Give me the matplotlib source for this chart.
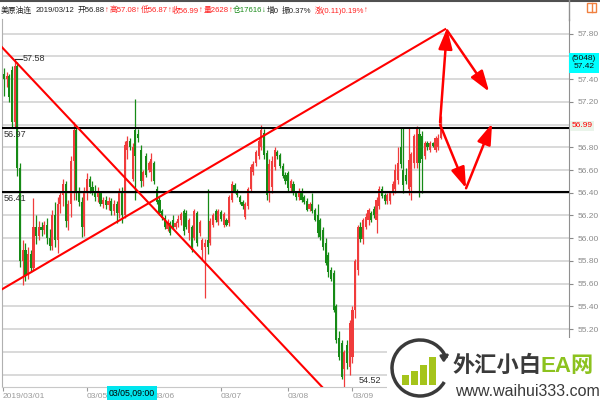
import numpy as np
import matplotlib
matplotlib.use("Agg")
from matplotlib import pyplot as plt
from matplotlib.patches import Rectangle, Arc

plt.rcParams['font.family'] = ['Liberation Sans', 'Noto Sans CJK SC', 'DejaVu Sans']

# hourly bars, 美原油连
opens = [57.45, 57.40, 57.43, 57.48, 57.02, 57.52, 56.62, 55.80, 55.90, 55.68,
         55.86, 55.74, 56.10, 56.02, 56.10, 56.07, 56.12, 56.00, 55.93, 56.20,
         55.98, 56.30, 56.38, 56.48, 56.15, 56.30, 56.68, 56.95, 56.40, 56.32,
         56.10, 56.40, 56.52, 56.45, 56.42, 56.36, 56.40, 56.30, 56.34, 56.29,
         56.33, 56.24, 56.30, 56.22, 56.40, 56.20, 56.78, 56.86, 56.52, 56.95,
         56.92, 56.78, 56.50, 56.72, 56.60, 56.58, 56.66, 56.43, 56.34, 56.24,
         56.18, 56.08, 56.13, 56.16, 56.10, 56.13, 56.16, 56.24, 56.22, 56.05,
         56.10, 56.00, 56.22, 56.05, 55.90, 55.92, 55.98, 55.96, 56.12, 56.24,
         56.14, 56.23, 56.12, 56.16, 56.13, 56.34, 56.47, 56.41, 56.36, 56.32,
         56.19, 56.28, 56.43, 56.58, 56.66, 56.72, 56.80, 56.93, 56.75, 56.40,
         56.45, 56.63, 56.76, 56.73, 56.64, 56.56, 56.57, 56.44, 56.48, 56.40,
         56.36, 56.42, 56.36, 56.33, 56.26, 56.30, 56.25, 56.20, 56.16, 56.07,
         55.96, 55.85, 55.72, 55.69, 55.40, 55.12, 55.08, 54.85, 55.06, 54.87,
         54.95, 55.37, 55.72, 56.10, 55.99, 56.10, 56.16, 56.22, 56.26, 56.16,
         56.28, 56.43, 56.38, 56.33, 56.33, 56.40, 56.43, 56.51, 56.80, 56.60,
         56.56, 56.43, 56.45, 56.66, 56.66, 56.92, 56.90, 56.72, 56.84, 56.78,
         56.84, 56.78, 56.80, 56.88]
highs = [57.50, 57.46, 57.45, 57.52, 57.58, 57.55, 56.66, 55.98, 55.96, 55.92,
         55.90, 56.35, 56.20, 56.15, 56.14, 56.15, 56.18, 56.08, 56.25, 56.32,
         56.36, 56.42, 56.52, 56.50, 56.34, 56.72, 57.02, 56.97, 56.45, 56.36,
         56.45, 56.57, 56.55, 56.50, 56.47, 56.45, 56.42, 56.36, 56.37, 56.36,
         56.35, 56.34, 56.33, 56.44, 56.45, 56.86, 56.90, 56.88, 56.84, 57.23,
         56.96, 56.82, 56.60, 56.75, 56.68, 56.75, 56.68, 56.46, 56.36, 56.26,
         56.20, 56.17, 56.15, 56.20, 56.15, 56.20, 56.23, 56.26, 56.25, 56.18,
         56.12, 56.26, 56.24, 56.16, 56.00, 55.99, 56.43, 56.18, 56.22, 56.26,
         56.26, 56.25, 56.23, 56.18, 56.38, 56.50, 56.49, 56.43, 56.38, 56.34,
         56.32, 56.45, 56.65, 56.68, 56.78, 56.88, 57.00, 56.96, 56.78, 56.70,
         56.72, 56.80, 56.78, 56.75, 56.66, 56.58, 56.59, 56.52, 56.50, 56.42,
         56.44, 56.44, 56.38, 56.35, 56.32, 56.40, 56.27, 56.30, 56.18, 56.10,
         56.00, 55.88, 55.75, 55.72, 55.42, 55.18, 55.10, 55.02, 55.10, 55.28,
         55.40, 55.82, 56.12, 56.14, 56.18, 56.22, 56.27, 56.24, 56.28, 56.36,
         56.46, 56.46, 56.40, 56.40, 56.42, 56.50, 56.65, 56.80, 56.97, 56.97,
         56.62, 56.97, 56.76, 56.92, 56.99, 56.97, 56.94, 56.86, 56.86, 56.86,
         56.85, 56.90, 56.92, 57.08]
lows = [57.25, 57.33, 57.20, 56.98, 56.98, 56.55, 55.75, 55.59, 55.62, 55.64,
        55.70, 55.72, 55.95, 55.98, 56.02, 56.04, 55.95, 55.90, 55.90, 55.92,
        55.87, 56.22, 56.28, 56.10, 56.07, 56.19, 56.34, 56.34, 56.28, 56.01,
        56.02, 56.34, 56.40, 56.38, 56.33, 56.32, 56.28, 56.27, 56.26, 56.25,
        56.20, 56.20, 56.13, 56.18, 56.13, 56.18, 56.70, 56.78, 56.50, 56.34,
        56.85, 56.45, 56.46, 56.54, 56.58, 56.50, 56.48, 56.30, 56.20, 56.16,
        56.08, 56.06, 56.03, 56.08, 56.08, 56.10, 56.12, 56.03, 56.08, 55.98,
        55.88, 55.98, 55.93, 56.02, 55.82, 55.47, 55.86, 55.94, 56.10, 56.14,
        56.12, 56.15, 56.10, 56.11, 56.11, 56.32, 56.40, 56.36, 56.30, 56.26,
        56.17, 56.26, 56.41, 56.56, 56.64, 56.70, 56.78, 56.70, 56.34, 56.32,
        56.40, 56.60, 56.70, 56.62, 56.53, 56.48, 56.42, 56.42, 56.38, 56.34,
        56.34, 56.32, 56.30, 56.24, 56.24, 56.22, 56.15, 56.01, 55.98, 55.90,
        55.76, 55.66, 55.62, 55.35, 55.08, 54.93, 54.76, 54.52, 54.85, 54.80,
        54.90, 55.30, 55.68, 55.97, 55.95, 56.08, 56.12, 56.14, 56.18, 56.05,
        56.26, 56.35, 56.30, 56.30, 56.30, 56.38, 56.40, 56.48, 56.62, 56.40,
        56.48, 56.38, 56.34, 56.62, 56.62, 56.36, 56.40, 56.70, 56.78, 56.76,
        56.80, 56.76, 56.78, 56.87]
closes = [57.40, 57.43, 57.24, 57.02, 57.52, 56.62, 55.80, 55.90, 55.68, 55.86,
          55.74, 56.10, 56.02, 56.10, 56.07, 56.12, 56.00, 55.93, 56.20, 55.98,
          56.30, 56.38, 56.48, 56.15, 56.30, 56.68, 56.95, 56.40, 56.32, 56.10,
          56.40, 56.52, 56.45, 56.42, 56.36, 56.40, 56.30, 56.34, 56.29, 56.33,
          56.24, 56.30, 56.22, 56.40, 56.20, 56.82, 56.86, 56.80, 56.80, 56.72,
          56.88, 56.50, 56.58, 56.56, 56.66, 56.70, 56.50, 56.32, 56.22, 56.18,
          56.10, 56.14, 56.05, 56.10, 56.13, 56.17, 56.21, 56.06, 56.10, 56.16,
          55.90, 56.24, 55.96, 56.14, 55.98, 55.96, 55.92, 56.15, 56.20, 56.16,
          56.24, 56.17, 56.21, 56.12, 56.36, 56.48, 56.42, 56.38, 56.32, 56.28,
          56.30, 56.43, 56.63, 56.65, 56.76, 56.86, 56.95, 56.73, 56.38, 56.65,
          56.68, 56.78, 56.72, 56.64, 56.55, 56.50, 56.44, 56.50, 56.40, 56.36,
          56.42, 56.34, 56.32, 56.25, 56.30, 56.24, 56.16, 56.05, 56.01, 55.92,
          55.78, 55.70, 55.64, 55.37, 55.10, 54.95, 54.78, 55.00, 54.90, 55.25,
          55.37, 55.80, 56.10, 55.99, 56.16, 56.19, 56.25, 56.16, 56.20, 56.34,
          56.43, 56.37, 56.33, 56.38, 56.40, 56.48, 56.60, 56.66, 56.65, 56.47,
          56.50, 56.69, 56.74, 56.90, 56.97, 56.66, 56.70, 56.84, 56.80, 56.84,
          56.81, 56.88, 56.88, 56.99]

date_ticks = [-0.5, 31, 56, 81, 106, 130]
date_labels = ['2019/03/01', '03/05', '03/06', '03/07', '03/08', '03/09']
price_ticks = [54.8, 55.0, 55.2, 55.4, 55.6, 55.8, 56.0, 56.2, 56.4, 56.6,
               56.8, 57.0, 57.2, 57.4, 57.6, 57.8]
hidden_labels = [54.8, 55.0, 57.0, 57.6]
levels = [56.97, 56.41]
high_mark = 57.58
low_mark = 54.52
last_price = 56.99
# trend lines: (bar, price) end points
down_line = [(-1.5, 57.70), (118.7, 54.69)]
up_line = [(-1.5, 55.54), (164.6, 57.84)]
# projected path arrows
arrows = [((162.7, 57.02), (165.3, 57.85)),
          ((165.3, 57.83), (181.0, 57.29)),
          ((162.7, 57.00), (172.4, 56.44)),
          ((172.4, 56.44), (182.1, 57.01))]
# header pieces: (text, colour); a piece starting with a space adds a gap
header = [("美原油连", 'k'), (" 2019/03/12", 'k'), (" 开56.88", 'k'), ("↑", 'r'),
          ("高57.08", 'r'), ("↑", 'r'), ("低56.87", 'r'), ("↑", 'r'),
          ("收56.99", 'r'), ("↑", 'r'), ("量2628", 'r'), ("↑", 'r'),
          ("仓17616", 'g'), ("↓", 'g'), ("增0", 'k'), (" 振0.37%", 'k'),
          (" 涨(0.11)0.19%", 'r'), ("↑", 'r')]
header_colors = {'k': '#202020', 'r': '#ff2020', 'g': '#1a8a1a'}

RED = '#f03c3c'
GREEN = '#168a16'

fig = plt.figure(figsize=(6, 4), dpi=100)
fig.patch.set_facecolor('white')
ax = fig.add_axes([2/600, 13/400, 567/600, 368/400])

x = np.arange(len(closes))
o = np.array(opens); c = np.array(closes)
h = np.array(highs); l = np.array(lows)
up = c >= o
cols = np.where(up, RED, GREEN)
ax.vlines(x, l, h, colors=cols, lw=0.9, zorder=3)
body = np.maximum(np.abs(c - o), 0.012)
ax.bar(x, body, bottom=np.minimum(o, c), width=0.8, color=cols, lw=0, zorder=3)

for lv in levels:
    ax.axhline(lv, color='black', lw=1.5, zorder=4)
    ax.text(-0.3, lv - 0.02, f'{lv:.2f}', fontsize=6.5, color='#303030', va='top', ha='left', zorder=6)

for ln in (down_line, up_line):
    ax.plot([ln[0][0], ln[1][0]], [ln[0][1], ln[1][1]], color='red', lw=1.5, zorder=5)

for a, b in arrows:
    ax.annotate('', xy=b, xytext=a, annotation_clip=False,
                arrowprops=dict(arrowstyle='-|>,head_length=0.9,head_width=0.3',
                                color='red', lw=1.8, shrinkA=0, shrinkB=0,
                                mutation_scale=14), zorder=6)

ihi = int(np.argmax(h))
ax.plot([ihi, ihi + 2.8], [high_mark, high_mark], color='#303030', lw=0.8, zorder=6)
ax.text(ihi + 3, high_mark, f'{high_mark:.2f}', fontsize=6.5, color='#303030', va='center', ha='left', zorder=6)
ilo = int(np.argmin(l))
ax.text(ilo + 5.5, 54.745, f'{low_mark:.2f}', fontsize=6.5, color='#303030', va='center', ha='left', zorder=6)

ax.set_xlim(-0.75, 210.8)
ax.set_ylim(54.69, 57.93)
ax.set_yticks(price_ticks)
ax.set_yticklabels(['' if any(abs(p - q) < 1e-6 for q in hidden_labels) else f'{p:.2f}'
                    for p in price_ticks])
ax.yaxis.tick_right()
ax.tick_params(axis='y', colors='#8a8a8a', labelsize=6, length=3, pad=3, width=0.8)
ax.set_xticks(date_ticks)
ax.set_xticklabels(date_labels, ha='left')
ax.tick_params(axis='x', colors='#9a9a9a', labelsize=6, length=3, pad=1.5, width=0.8)
ax.grid(axis='y', color='#d9d9d9', lw=1.4, zorder=0)
ax.set_axisbelow(True)
ax.spines['top'].set_visible(False)
ax.spines['left'].set_color('#b0b0b0')
ax.spines['right'].set_color('#909090')
ax.spines['bottom'].set_color('#c8c8c8')
ax.text(1.004, (last_price - 54.69) / (57.93 - 54.69), f'{last_price:.2f}', transform=ax.transAxes,
        fontsize=6, color='red', va='center', ha='left', zorder=7,
        bbox=dict(boxstyle='square,pad=0.2', fc='#eaf4ea', ec='none'))

# overlay in pixel units for header, cursor labels and watermark
ov = fig.add_axes([0, 0, 1, 1], zorder=10)
ov.set_xlim(0, 600); ov.set_ylim(400, 0); ov.axis('off')
ov.patch.set_alpha(0)
ov.plot([0, 600], [0.6, 0.6], color='#505050', lw=1.5)
ov.plot([569, 569], [0, 20], color='#909090', lw=1)
ov.add_patch(Rectangle((587, 3), 9, 9, fill=False, ec='#f08040', lw=1))
ov.plot([592, 592], [3, 12], color='#f08040', lw=1)

renderer = fig.canvas.get_renderer()
hx = 1.0
for txt, ck in header:
    if txt.startswith(' '):
        hx += 3.2
        txt = txt[1:]
    t = ov.text(hx, 10.5, txt, fontsize=5.6, color=header_colors[ck], va='center', ha='left')
    hx += t.get_window_extent(renderer).width + 0.2

ov.text(584, 63, '(5048)\n57.42', fontsize=6, color='#101010', ha='center', va='center',
        linespacing=1.2, bbox=dict(boxstyle='square,pad=0.35', fc='#00ffff', ec='none'))
ov.text(132, 393, '03/05,09:00', fontsize=6.3, color='black', ha='center', va='center',
        bbox=dict(boxstyle='square,pad=0.25', fc='#00e5ee', ec='none'))

# watermark
ov.add_patch(Rectangle((387, 338), 213, 62, fc='white', ec='none'))
ov.add_patch(Arc((420, 368), 56, 56, theta1=-330, theta2=-20, color='#3a3a3a', lw=2.5))
ov.annotate('', xy=(452, 352), xytext=(444, 357),
            arrowprops=dict(arrowstyle='-|>', color='#3a3a3a', lw=2, mutation_scale=10))
for bx, bh in zip([402, 411, 420, 429], [10, 14, 20, 28]):
    ov.add_patch(Rectangle((bx, 385 - bh), 7, bh, fc='#a5c41b', ec='none'))
ov.text(453, 366, '外汇小白', fontsize=16, fontweight='bold', color='#3a3a3a', va='center', ha='left')
ov.text(540, 366, 'EA网', fontsize=16, fontweight='bold', color='#8cc21e', va='center', ha='left')
ov.text(455, 391, 'www.waihui333.com', fontsize=11.5, color='#3a3a3a', va='center', ha='left')

fig.savefig('out.png', dpi=100)
